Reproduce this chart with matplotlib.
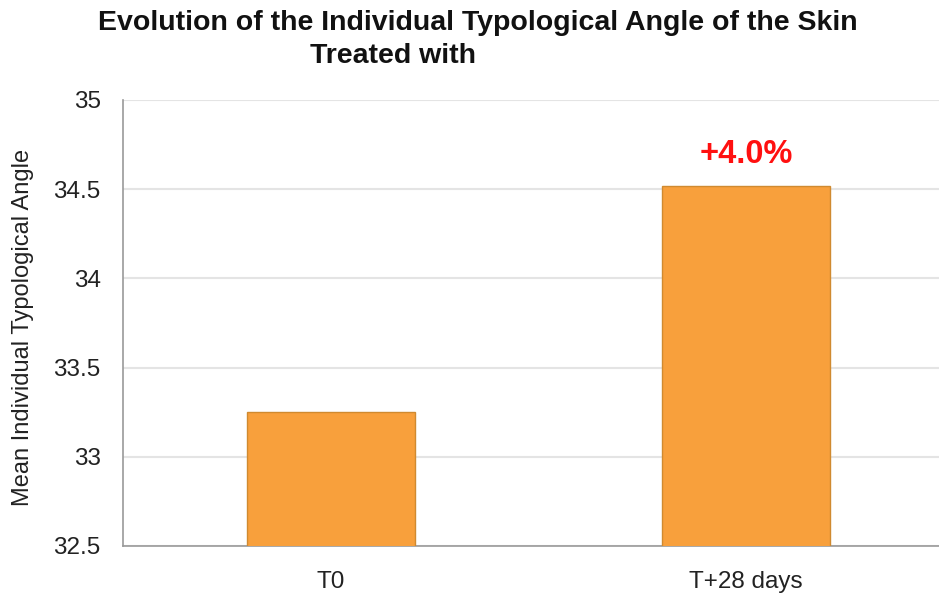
import matplotlib
matplotlib.use("Agg")
import matplotlib.pyplot as plt

categories = ["T0", "T+28 days"]
values = [33.25, 34.52]
annotation = "+4.0%"
yticks = [32.5, 33, 33.5, 34, 34.5, 35]
ytick_labels = ["32.5", "33", "33.5", "34", "34.5", "35"]

plt.rcParams['font.family'] = ['Liberation Sans', 'DejaVu Sans']

fig = plt.figure(figsize=(9.39, 5.96), dpi=100)
ax = fig.add_axes([123/939, 50/596, 816/939, 446/596])

x = list(range(len(categories)))
ax.bar(x, values, width=0.405, bottom=0, color='#F8A03C', edgecolor='#D08A30',
       linewidth=1.0, zorder=3)
ax.set_ylim(32.5, 35)
ax.set_xlim(-0.5, 1.464)
ax.set_yticks(yticks)
ax.set_yticklabels(ytick_labels)
ax.set_xticks(x)
ax.set_xticklabels(categories)
ax.tick_params(axis='both', length=0, labelsize=17.5, colors='#222222')
ax.tick_params(axis='y', pad=16)
ax.tick_params(axis='x', pad=18)
ax.yaxis.grid(True, color='#E4E4E4', linewidth=1.5, zorder=0)
ax.set_axisbelow(True)
for s in ['top', 'right']:
    ax.spines[s].set_visible(False)
for s in ['left', 'bottom']:
    ax.spines[s].set_color('#999999')
    ax.spines[s].set_linewidth(1.2)

ax.set_ylabel("Mean Individual Typological Angle", fontsize=17, color='#222222')
ax.yaxis.set_label_coords(-0.109, 0.49)

ax.annotate(annotation, xy=(1, values[1]), xytext=(0, 11), textcoords='offset points',
            ha='center', va='bottom', color='#FF1010', fontsize=23.5, fontweight='bold')

fig.text(478/939, 1 - 23/596, "Evolution of the Individual Typological Angle of the Skin",
         ha='center', va='center', fontsize=20.5, fontweight='bold', color='#111111')
fig.text(393/939, 1 - 56/596, "Treated with",
         ha='center', va='center', fontsize=20.5, fontweight='bold', color='#111111')

fig.savefig("out.png", dpi=100)
